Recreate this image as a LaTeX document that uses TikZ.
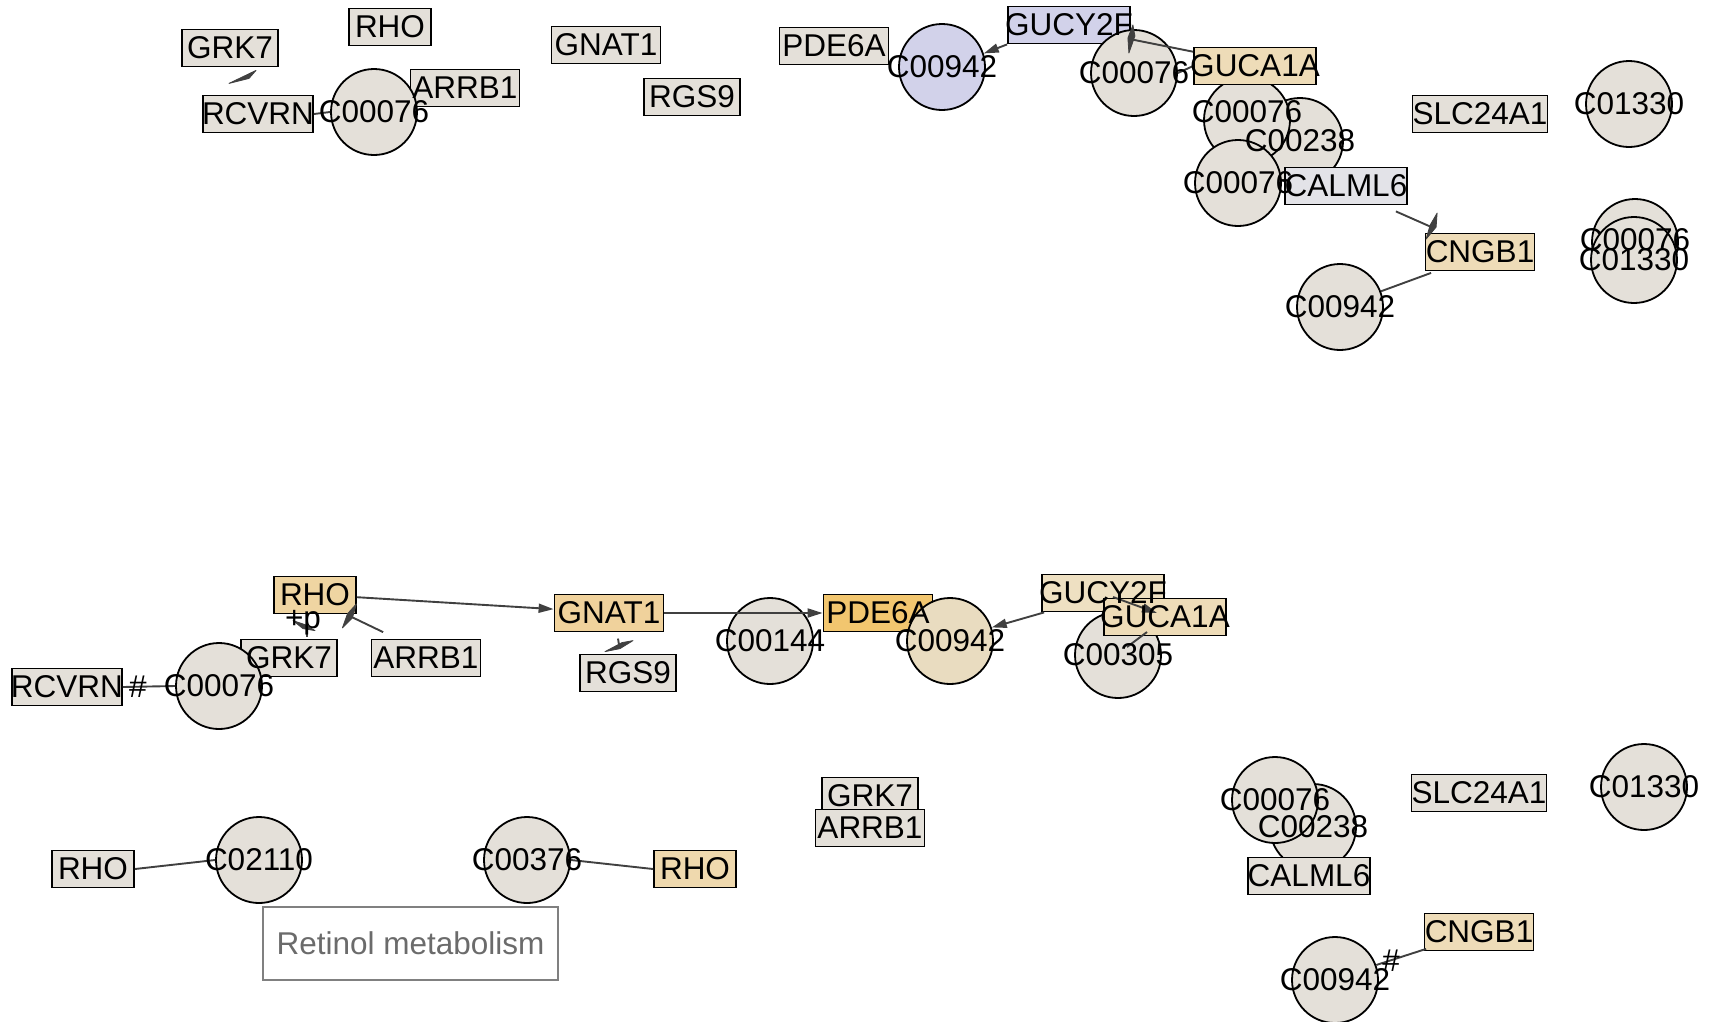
\documentclass[tikz,border=0pt]{standalone}
\usepackage{fontspec}
\newfontfamily\lbfont{Liberation Sans}
\usetikzlibrary{arrows.meta,calc}
\definecolor{cgrey}{HTML}{E4E0D9}
\definecolor{ctan}{HTML}{EEDCB8}
\definecolor{clav}{HTML}{D2D2EA}
\definecolor{cblue}{HTML}{E3E3E8}
\definecolor{crho}{HTML}{EFD5A2}
\definecolor{cgnat}{HTML}{F0D29C}
\definecolor{cpde}{HTML}{F2C66F}
\definecolor{cc942}{HTML}{E9DCC0}
\definecolor{cgucy}{HTML}{EEE0C2}
\definecolor{crho2}{HTML}{EFD9AE}
\definecolor{edgec}{HTML}{404040}
\definecolor{rframe}{HTML}{808080}
\definecolor{rtext}{HTML}{6B6B6B}
\tikzset{
  shp/.style={draw=black, line width=1.8pt},
  gbox/.style={shp, rectangle, minimum height=37pt, inner sep=0pt, fill=cgrey},
  cir/.style={shp, circle, minimum size=86pt, inner sep=0pt, fill=cgrey},
  wthree/.style={minimum width=82pt},
  wfour/.style={minimum width=96pt},
  wfive/.style={minimum width=109pt},
  wsix/.style={minimum width=122pt},
  wseven/.style={minimum width=135pt},
  lbl/.style={inner sep=0pt, text=black, font=\lbfont\fontsize{31.5pt}{36pt}\selectfont},
  conn/.style={draw=edgec, line width=1.9pt},
  arr/.style={conn, -{Triangle[length=15pt,width=9pt]}},
  wedge/.style={fill=edgec, draw=edgec, line width=0.8pt, line join=round},
}
\begin{document}
\begin{tikzpicture}[x=1pt, y=-1pt]
\useasboundingbox (0,0) rectangle (1713,1021);
% ---------------- top section shapes ----------------
\node[gbox,wthree] (tRHO) at (390,27) {};
\node[gbox,wfour] (tGRK7) at (230,48) {};
\node[gbox,wsix,minimum width=110pt] (tRCVRN) at (258,114) {};
\node[gbox,wfive] (tARRB1) at (465,88) {};
\node[cir] (tC00076a) at (374,112) {};
\node[gbox,wfive] (tGNAT1) at (606,45) {};
\node[gbox,wfour] (tRGS9) at (692,97) {};
\node[gbox,wfive] (tPDE6A) at (834,46) {};
\node[cir,fill=clav] (tC00942a) at (942,67) {};
\node[gbox,wsix,fill=clav] (tGUCY2F) at (1069,25) {};
\node[cir] (tC00076b) at (1134,73) {};
\node[cir] (tC00238) at (1300,141) {};
\node[cir] (tC00076c) at (1247,120) {};
\node[cir] (tC00076d) at (1238,183) {};
\node[gbox,wsix,fill=ctan] (tGUCA1A) at (1255,66) {};
\node[gbox,wsix,fill=cblue] (tCALML6) at (1346,186) {};
\node[gbox,wfive,fill=ctan] (tCNGB1) at (1480,252) {};
\node[cir] (tC00942b) at (1340,307) {};
\node[gbox,wseven] (tSLC24A1) at (1480,114) {};
\node[cir] (tC01330a) at (1629,104) {};
\node[cir] (tC00076e) at (1635,242) {};
\node[cir] (tC01330b) at (1634,260) {};
% ---------------- middle section shapes ----------------
\node[gbox,wthree,fill=crho] (mRHO) at (315,595) {};
\node[gbox,wfour] (mGRK7) at (289,658) {};
\node[gbox,wfive] (mARRB1) at (426,658) {};
\node[gbox,wfive,minimum width=110pt] (mRCVRN) at (67,687) {};
\node[cir] (mC00076) at (219,686) {};
\node[gbox,wfive,fill=cgnat] (mGNAT1) at (609,613) {};
\node[gbox,wfour] (mRGS9) at (628,673) {};
\node[cir] (mC00144) at (770,641) {};
\node[gbox,wfive,fill=cpde] (mPDE6A) at (878,613) {};
\node[cir,fill=cc942] (mC00942) at (950,641) {};
\node[gbox,wsix,fill=cgucy] (mGUCY2F) at (1103,593) {};
\node[cir] (mC00305) at (1118,655) {};
\node[gbox,wsix,fill=ctan] (mGUCA1A) at (1165,617) {};
% ---------------- bottom section shapes ----------------
\node[gbox,wthree] (bRHO1) at (93,869) {};
\node[cir] (bC02110) at (259,860) {};
\node[cir] (bC00376) at (527,860) {};
\node[gbox,wthree,fill=crho2] (bRHO2) at (695,869) {};
\node[draw=rframe, line width=1.5pt, minimum width=295pt, minimum height=73pt, inner sep=0pt,
      text=rtext, font=\lbfont\fontsize{31.5pt}{36pt}\selectfont] (retinol) at (410.5,943.5) {Retinol metabolism};
\node[gbox,wfour] (bGRK7) at (870,796) {};
\node[gbox,wfive] (bARRB1) at (870,828) {};
\node[cir] (bC00238) at (1313,827) {};
\node[cir] (bC00076) at (1275,800) {};
\node[gbox,wsix] (bCALML6) at (1309,876) {};
\node[gbox,wseven] (bSLC24A1) at (1479,793) {};
\node[cir] (bC01330) at (1644,787) {};
\node[gbox,wfive,fill=ctan] (bCNGB1) at (1479,932) {};
\node[cir] (bC00942) at (1335,980) {};
% ---------------- connectors: top ----------------
\draw[conn] (tRCVRN.east) -- (tC00076a.west);
\filldraw[wedge] ($(tGRK7.south)+(-1,16)$) -- ($(tGRK7.south)+(26,3)$) -- ($(tGRK7.south)+(19,11)$) -- cycle;
\draw[arr] (tGUCY2F.south west) -- (tC00942a.18);
\draw[conn] (tGUCA1A.167) -- (tGUCY2F.-13);
\filldraw[wedge] ($(tGUCY2F.east)+(2,0)$) -- ($(tGUCY2F.east)+(4,11)$) -- ($(tGUCY2F.east)+(-2,28)$) -- ($(tGUCY2F.east)+(-3,13)$) -- cycle;
\draw[conn] (tC00076b.east) -- (tGUCA1A.west);
\draw[conn] ($(tCALML6.south east)+(-12,6)$) coordinate (tcalA) -- ($(tCNGB1.north west)+(8,-5)$) coordinate (tcngA);
\filldraw[wedge] ($(tCNGB1.north west)+(12.5,-19.5)$) -- ($(tCNGB1.north west)+(11.5,-5.5)$) -- ($(tCNGB1.north west)+(1.5,6.5)$) -- ($(tCNGB1.north west)+(5.5,-7.5)$) -- cycle;
\draw[conn] ($(tCNGB1.south west)+(6.5,1.5)$) -- (tC00942b.21);
% ---------------- connectors: middle ----------------
\draw[conn] (mRCVRN.east) -- (mC00076.west);
\draw[conn] ($(mGRK7.north)+(18,-12)$) -- ($(mGRK7.north)+(18,-2)$);
\filldraw[wedge] ($(mGRK7.north)+(4,-18)$) -- ($(mGRK7.north)+(16,-14)$) -- ($(mGRK7.north)+(26,-8)$) -- ($(mGRK7.north)+(14,-10)$) -- cycle;
\draw[conn] ($(mARRB1.north west)+(12.5,-6.5)$) -- ($(mRHO.south east)+(-7.5,1.5)$);
\filldraw[wedge] ($(mRHO.south east)+(-0.5,-10.5)$) -- ($(mRHO.south east)+(-4.5,3.5)$) -- ($(mRHO.south east)+(-14.5,13.5)$) -- ($(mRHO.south east)+(-9.5,-0.5)$) -- cycle;
\draw[arr] (mRHO.-3) -- (mGNAT1.176);
\draw[arr] (mGNAT1.east) -- (mPDE6A.west);
\draw[conn] ($(mRGS9.north)+(-10,-15)$) -- ($(mRGS9.north)+(-9,-9)$);
\filldraw[wedge] ($(mRGS9.north)+(-23,-2)$) -- ($(mRGS9.north)+(-6,-11)$) -- ($(mRGS9.north)+(5,-13)$) -- ($(mRGS9.north)+(-8,-5)$) -- cycle;
\draw[arr] ($(mGUCY2F.south west)+(3,0)$) -- (mC00942.18);
\draw[arr] ($(mGUCY2F.center)+(10,4)$) -- ($(mGUCA1A.center)+(-8,-4)$);
\draw[conn] ($(mGUCA1A.center)+(-18,15)$) -- ($(mC00305.center)+(9,-8)$);
% ---------------- connectors: bottom ----------------
\draw[conn] (bRHO1.east) -- (bC02110.west);
\draw[conn] (bC00376.east) -- (bRHO2.west);
\draw[conn] ($(bCNGB1.south west)+(2.5,-2.5)$) -- (bC00942.20);
% ---------------- labels ----------------
\node[lbl] (tRHOl) at (tRHO) {RHO};
\node[lbl] (tGRK7l) at (tGRK7) {GRK7};
\node[lbl] (tRCVRNl) at (tRCVRN) {RCVRN};
\node[lbl] (tARRB1l) at (tARRB1) {ARRB1};
\node[lbl] (tC00076al) at (tC00076a) {C00076};
\node[lbl] (tGNAT1l) at (tGNAT1) {GNAT1};
\node[lbl] (tRGS9l) at (tRGS9) {RGS9};
\node[lbl] (tPDE6Al) at (tPDE6A) {PDE6A};
\node[lbl] (tC00942al) at (tC00942a) {C00942};
\node[lbl] (tGUCY2Fl) at (tGUCY2F) {GUCY2F};
\node[lbl] (tC00076bl) at (tC00076b) {C00076};
\node[lbl] (tC00238l) at (tC00238) {C00238};
\node[lbl] (tC00076cl) at ($(tC00076c)+(0,-8)$) {C00076};
\node[lbl] (tC00076dl) at (tC00076d) {C00076};
\node[lbl] (tGUCA1Al) at (tGUCA1A) {GUCA1A};
\node[lbl] (tCALML6l) at (tCALML6) {CALML6};
\node[lbl] (tCNGB1l) at (tCNGB1) {CNGB1};
\node[lbl] (tC00942bl) at (tC00942b) {C00942};
\node[lbl] (tSLC24A1l) at (tSLC24A1) {SLC24A1};
\node[lbl] (tC01330al) at (tC01330a) {C01330};
\node[lbl] (tC00076el) at ($(tC00076e)+(0,-2)$) {C00076};
\node[lbl] (tC01330bl) at (tC01330b) {C01330};
\node[lbl] (mRHOl) at (mRHO) {RHO};
\node[lbl] (mGRK7l) at (mGRK7) {GRK7};
\node[lbl] (mARRB1l) at (mARRB1) {ARRB1};
\node[lbl] (mRCVRNl) at (mRCVRN) {RCVRN};
\node[lbl] (mC00076l) at (mC00076) {C00076};
\node[lbl] (mhash) at (138,687) {\#};
\node[lbl] (mplus) at (303,623) {+p};
\node[lbl] (mGNAT1l) at (mGNAT1) {GNAT1};
\node[lbl] (mRGS9l) at (mRGS9) {RGS9};
\node[lbl] (mC00144l) at (mC00144) {C00144};
\node[lbl] (mPDE6Al) at (mPDE6A) {PDE6A};
\node[lbl] (mC00942l) at (mC00942) {C00942};
\node[lbl] (mGUCY2Fl) at (mGUCY2F) {GUCY2F};
\node[lbl] (mGUCA1Al) at (mGUCA1A) {GUCA1A};
\node[lbl] (mC00305l) at (mC00305) {C00305};
\node[lbl] (bRHO1l) at (bRHO1) {RHO};
\node[lbl] (bC02110l) at (bC02110) {C02110};
\node[lbl] (bC00376l) at (bC00376) {C00376};
\node[lbl] (bRHO2l) at (bRHO2) {RHO};
\node[lbl] (bGRK7l) at (bGRK7) {GRK7};
\node[lbl] (bARRB1l) at (bARRB1) {ARRB1};
\node[lbl] (bC00076l) at (bC00076) {C00076};
\node[lbl] (bC00238l) at (bC00238) {C00238};
\node[lbl] (bCALML6l) at (bCALML6) {CALML6};
\node[lbl] (bSLC24A1l) at (bSLC24A1) {SLC24A1};
\node[lbl] (bC01330l) at (bC01330) {C01330};
\node[lbl] (bCNGB1l) at (bCNGB1) {CNGB1};
\node[lbl] (bhash) at (1391,961) {\#};
\node[lbl] (bC00942l) at (bC00942) {C00942};
\end{tikzpicture}
\end{document}
